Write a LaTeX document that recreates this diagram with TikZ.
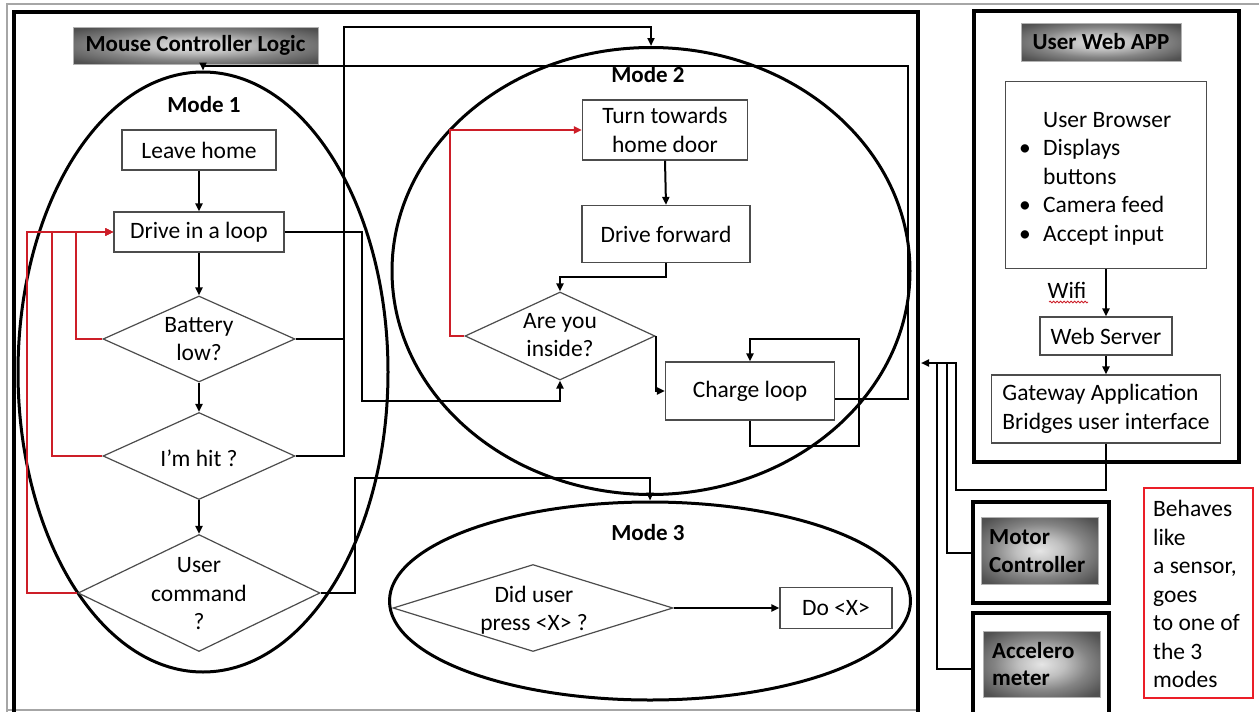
\documentclass[tikz,border=0pt]{standalone}
\usepackage{fontspec}
\setmainfont{Carlito}
\usetikzlibrary{shapes.geometric,arrows.meta,decorations.pathmorphing,calc}
\definecolor{redln}{RGB}{205,30,40}
\definecolor{redbox}{RGB}{235,30,40}
\pgfdeclareradialshading{lblshade}{\pgfpointorigin}{color(0bp)=(black!10); color(10bp)=(black!25); color(20bp)=(black!48); color(32bp)=(black!68); color(50bp)=(black!74)}
\newcommand{\fsn}{\fontsize{23.5}{28.5}\selectfont}
\newcommand{\fsb}{\fontsize{23}{27.5}\selectfont\bfseries}
\tikzset{
  box/.style={draw=black!70, line width=1.2pt, align=center, inner sep=0pt, font=\fsn},
  dia/.style={diamond, draw=black!70, line width=1.2pt, inner sep=0pt},
  txt/.style={align=center, inner sep=0pt, font=\fsn},
  hdr/.style={inner sep=0pt, font=\fsb},
  ell/.style={ellipse, draw, line width=3pt, inner sep=0pt},
  conn/.style={draw, line width=2pt, -{Triangle[length=8pt,width=7pt]}},
  plain/.style={draw, line width=2pt},
  rconn/.style={draw=redln, line width=2pt, -{Triangle[length=8pt,width=7pt]}},
  shade/.style={shading=lblshade, draw=gray!60, line width=0.8pt},
  frame/.style={draw, line width=4pt},
}
\begin{document}
\begin{tikzpicture}[x=1pt,y=-1pt]
\useasboundingbox (0,0) rectangle (1259,712);
\clip (0,0) rectangle (1259,712);
\fill[white] (0,0) rectangle (1259,712);
% outer thin frame
\draw[gray!70, line width=1.2pt] (7,730) -- (7,4) -- (1259,4);
\draw[gray!70, line width=1.2pt] (7,710) -- (918,710);
% main frame
\draw[frame] (14,12) rectangle (918,740);
% header label
\shade[shade] (73,27) rectangle (318,64);
\node[hdr] (mcl) at (195.5,45.5) {Mouse Controller Logic};

% ellipses
\node[ell, minimum width=370pt, minimum height=600pt] (m1) at (203,372) {};
\node[ell, minimum width=518pt, minimum height=447pt] (m2) at (651,271) {};
\node[ell, minimum width=521pt, minimum height=198pt] (m3) at (650,601) {};
\node[hdr] (m1t) at (204,105) {Mode 1};
\node[hdr] (m2t) at (648,75) {Mode 2};
\node[hdr] (m3t) at (648,533) {Mode 3};

% Mode 1 nodes
\node[box, minimum width=154pt, minimum height=40pt] (lh) at (199,150) {Leave home};
\node[box, minimum width=170pt, minimum height=40pt] (dl) at (199,232) {Drive in a loop};
\node[dia, minimum width=192pt, minimum height=86pt] (bl) at (199,339) {};
\node[txt] at (bl) {Battery\\low?};
\node[dia, minimum width=192pt, minimum height=87pt] (hit) at (199,456) {};
\node[txt] at (199,458) {I’m hit ?};
\node[dia, minimum width=242pt, minimum height=117pt] (uc) at (199,593) {};
\node[txt] at (199,594) {User\\command\\?};

% Mode 2 nodes
\node[box, minimum width=165pt, minimum height=60pt] (tt) at (665,130) {Turn towards\\home door};
\node[box, minimum width=168pt, minimum height=57pt] (df) at (666,234) {Drive forward};
\node[dia, minimum width=190pt, minimum height=88pt] (ai) at (560,336) {};
\node[txt] at (560,335) {Are you\\inside?};
\node[box, minimum width=169pt, minimum height=58pt] (cl) at (750,391) {Charge loop};

% Mode 3 nodes
\node[dia, minimum width=280pt, minimum height=87pt] (du) at (533,608) {};
\node[txt] at (534,610) {Did user\\press <X> ?};
\node[box, minimum width=112pt, minimum height=41pt] (dox) at (836,608) {Do <X>};

% Mode 1 connectors
\draw[conn] (lh.south) -- (dl.north);
\draw[conn] (dl.south) -- (bl.north);
\draw[conn] (bl.south) -- (hit.north);
\draw[conn] (hit.south) -- (uc.north);
\draw[rconn] (bl.west) -- ++(-26,0) |- (dl.west);
\draw[rconn] (hit.west) -- ++(-50,0) |- (dl.west);
\draw[rconn] (uc.west) -- ++(-50,0) |- (dl.west);
\draw[conn] (dl.east) -| (362,401) -| (ai.south);
\draw[plain] (bl.east) -- (344,339);
\draw[conn] (hit.east) -| (344,27) -| (m2.north);
\draw[conn] (uc.east) -| (355,478) -| (m3.north);

% Mode 2 connectors
\draw[conn] (tt.south) -- (df.north);
\draw[conn] (df.south) -- ++(0,14) -| (ai.north);
\draw[rconn] (ai.west) -- ++(-14,0) |- (tt.west);
\draw[conn] (ai.east) |- (cl.west);
\draw[conn] (cl.south) -- ++(0,25) -| (859,339) -| (cl.north);
\draw[conn] ($(cl.east)+(0,8)$) -| (908,66) -| (m1.north);

% Mode 3 connector
\draw[conn] (du.east) -- (dox.west);

% User web app
\draw[frame] (974,11) rectangle (1239,462);
\shade[shade] (1021,23) rectangle (1181,61);
\node[hdr] (uwa) at (1101,42) {User Web APP};
\node[box, minimum width=201pt, minimum height=187pt] (ub) at (1106,175) {};
\node[txt, align=left, anchor=north west] at (1017,112) {\hspace*{26pt}User Browser\\\makebox[26pt][l]{\hspace*{2pt}\textbullet}Displays\\\hspace*{26pt}buttons\\\makebox[26pt][l]{\hspace*{2pt}\textbullet}Camera feed\\\makebox[26pt][l]{\hspace*{2pt}\textbullet}Accept input};
\node[box, minimum width=132pt, minimum height=38pt] (ws) at (1106,336) {Web Server};
\node[box, minimum width=229pt, minimum height=68pt, align=left] (gw) at (1106,409) {Gateway Application\\Bridges user interface};
\draw[conn] (ub.south) -- (ws.north);
\node[txt] (wifi) at (1067,290) {Wifi};
\draw[redln, line width=0.8pt, decorate, decoration={snake, amplitude=0.9pt, segment length=3.5pt}] (1049,302) -- (1088,302);
\draw[conn] (ws.south) -- (gw.north);

% Motor controller and accelerometer
\node[frame, minimum width=136pt, minimum height=101pt, inner sep=0pt] (mc) at (1041,552.5) {};
\shade[shade] (981,517) rectangle (1098,584);
\node[hdr, align=left, anchor=west] at (989,551) {Motor\\Controller};
\node[frame, minimum width=136pt, minimum height=112pt, inner sep=0pt] (acc) at (1041,669) {};
\shade[shade] (983,631) rectangle (1100,697);
\node[hdr, align=left, anchor=west] at (992,664) {Accelero\\meter};

\coordinate (fin) at (921,363);
\draw[conn] (gw.south) -- (1106,490) -| (956,363) -- (fin);
\draw[plain] (mc.west) -| (947,363);
\draw[plain] (acc.west) -| (937,363);

% red note
\draw[redbox, line width=2pt] (1144,488) rectangle (1253,698);
\node[txt, align=left, anchor=north west] (note) at (1153,500) {Behaves\\like\\a sensor,\\goes\\to one of\\the 3\\modes};
\end{tikzpicture}
\end{document}
